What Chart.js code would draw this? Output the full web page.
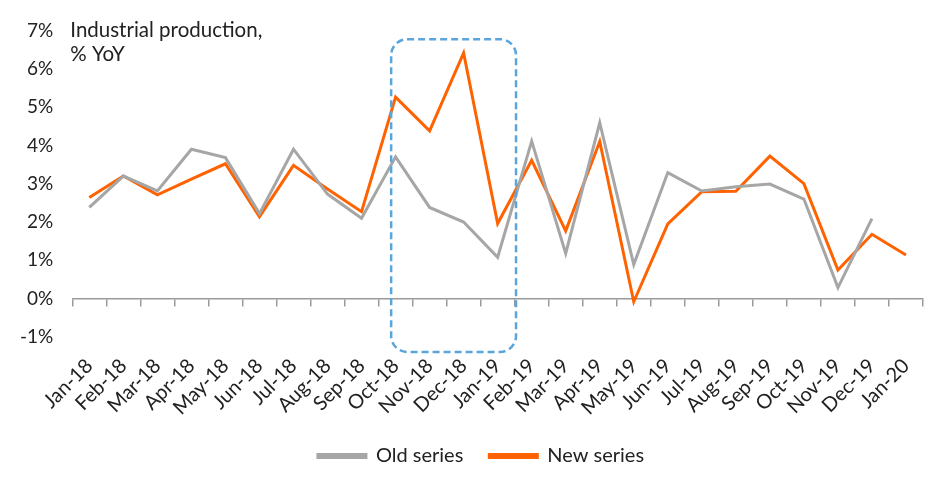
<!DOCTYPE html>
<html>
<head>
<meta charset="utf-8">
<script src="https://cdn.jsdelivr.net/npm/chart.js@4/dist/chart.umd.min.js"></script>
<style>
  html, body { margin: 0; padding: 0; background: #fff; }
  #wrap { width: 952px; height: 491px; }
</style>
</head>
<body>
<div id="wrap"><canvas id="grafica"></canvas></div>
<script>
// months on the x axis
const meses = ['Jan-18', 'Feb-18', 'Mar-18', 'Apr-18', 'May-18', 'Jun-18', 'Jul-18', 'Aug-18', 'Sep-18',
  'Oct-18', 'Nov-18', 'Dec-18', 'Jan-19', 'Feb-19', 'Mar-19', 'Apr-19', 'May-19', 'Jun-19', 'Jul-19',
  'Aug-19', 'Sep-19', 'Oct-19', 'Nov-19', 'Dec-19', 'Jan-20'];

// industrial production, % YoY
const serieVieja = [2.38, 3.2, 2.81, 3.9, 3.68, 2.22, 3.9, 2.73, 2.1, 3.7, 2.38, 2.0, 1.08,
  4.11, 1.18, 4.59, 0.89, 3.29, 2.81, 2.92, 2.99, 2.6, 0.29, 2.09, null];
const serieNueva = [2.64, 3.2, 2.71, 3.12, 3.52, 2.14, 3.48, 2.86, 2.27, 5.26, 4.38, 6.41, 1.96,
  3.61, 1.77, 4.1, -0.08, 1.95, 2.79, 2.8, 3.72, 3.0, 0.75, 1.68, 1.14];

const ejeY = { min: -1, max: 7, paso: 1 };
const titulo = ['Industrial production,', '% YoY'];
// revised months highlighted by the dashed box (category index / % units)
const resaltado = { desde: 8.87, hasta: 12.54, arriba: 6.77, abajo: -1.39 };

const fuente = 'Lato, "Noto Sans", sans-serif';

const cajaPunteada = {
  id: 'cajaPunteada',
  afterDatasetsDraw(chart) {
    const { ctx, scales: { x, y } } = chart;
    const x1 = x.getPixelForValue(resaltado.desde);
    const x2 = x.getPixelForValue(resaltado.hasta);
    const y1 = y.getPixelForValue(resaltado.arriba);
    const y2 = y.getPixelForValue(resaltado.abajo);
    ctx.save();
    ctx.strokeStyle = '#5aa5dc';
    ctx.lineWidth = 2.5;
    ctx.setLineDash([7, 4]);
    ctx.beginPath();
    ctx.roundRect(x1, y1, x2 - x1, y2 - y1, 16);
    ctx.stroke();
    ctx.restore();
  }
};

const tituloEje = {
  id: 'tituloEje',
  afterDraw(chart) {
    const { ctx, chartArea, scales: { y } } = chart;
    ctx.save();
    ctx.fillStyle = '#222';
    ctx.font = '20.5px ' + fuente;
    ctx.textBaseline = 'middle';
    const y0 = y.getPixelForValue(ejeY.max);
    titulo.forEach((t, i) => ctx.fillText(t, chartArea.left - 2, y0 + i * 24));
    ctx.restore();
  }
};

// the legend sits a bit right of the canvas centre in the original
const moverLeyenda = {
  id: 'moverLeyenda',
  afterLayout(chart) {
    chart.legend.left += 19;
    chart.legend.right += 19;
  }
};

const ctx = document.getElementById('grafica').getContext('2d');
new Chart(ctx, {
  type: 'line',
  data: {
    labels: meses,
    datasets: [
      {
        label: 'Old series',
        data: serieVieja,
        borderColor: '#a6a6a6',
        backgroundColor: '#a6a6a6',
        borderWidth: 3,
        pointRadius: 0,
        tension: 0
      },
      {
        label: 'New series',
        data: serieNueva,
        borderColor: '#ff6200',
        backgroundColor: '#ff6200',
        borderWidth: 3,
        pointRadius: 0,
        tension: 0
      }
    ]
  },
  options: {
    responsive: true,
    maintainAspectRatio: false,
    animation: false,
    layout: { padding: { left: 1, right: 29, top: 29, bottom: 15 } },
    plugins: {
      tooltip: { enabled: false },
      legend: {
        position: 'bottom',
        labels: {
          boxWidth: 48,
          boxHeight: 3,
          padding: 26,
          color: '#222',
          font: { family: fuente, size: 20 }
        }
      }
    },
    scales: {
      x: {
        type: 'category',
        offset: true,
        grid: { display: false, drawTicks: false },
        border: { display: false },
        ticks: {
          minRotation: 45,
          maxRotation: 45,
          autoSkip: false,
          padding: 17,
          color: '#222',
          font: { family: fuente, size: 20 }
        },
        afterFit(scale) { scale.height = 83; }
      },
      x2: {
        type: 'category',
        labels: meses,
        offset: true,
        position: { y: 0 },
        grid: { offset: true, drawOnChartArea: false, tickLength: 7, color: '#999', lineWidth: 1.5 },
        border: { color: '#999', width: 1.5 },
        ticks: { display: false }
      },
      y: {
        min: ejeY.min,
        max: ejeY.max,
        grid: { display: false, drawTicks: false },
        border: { display: false },
        ticks: {
          stepSize: ejeY.paso,
          padding: 19,
          color: '#222',
          font: { family: fuente, size: 19 },
          callback: v => v + '%'
        }
      }
    }
  },
  plugins: [cajaPunteada, tituloEje, moverLeyenda]
});
</script>
</body>
</html>
